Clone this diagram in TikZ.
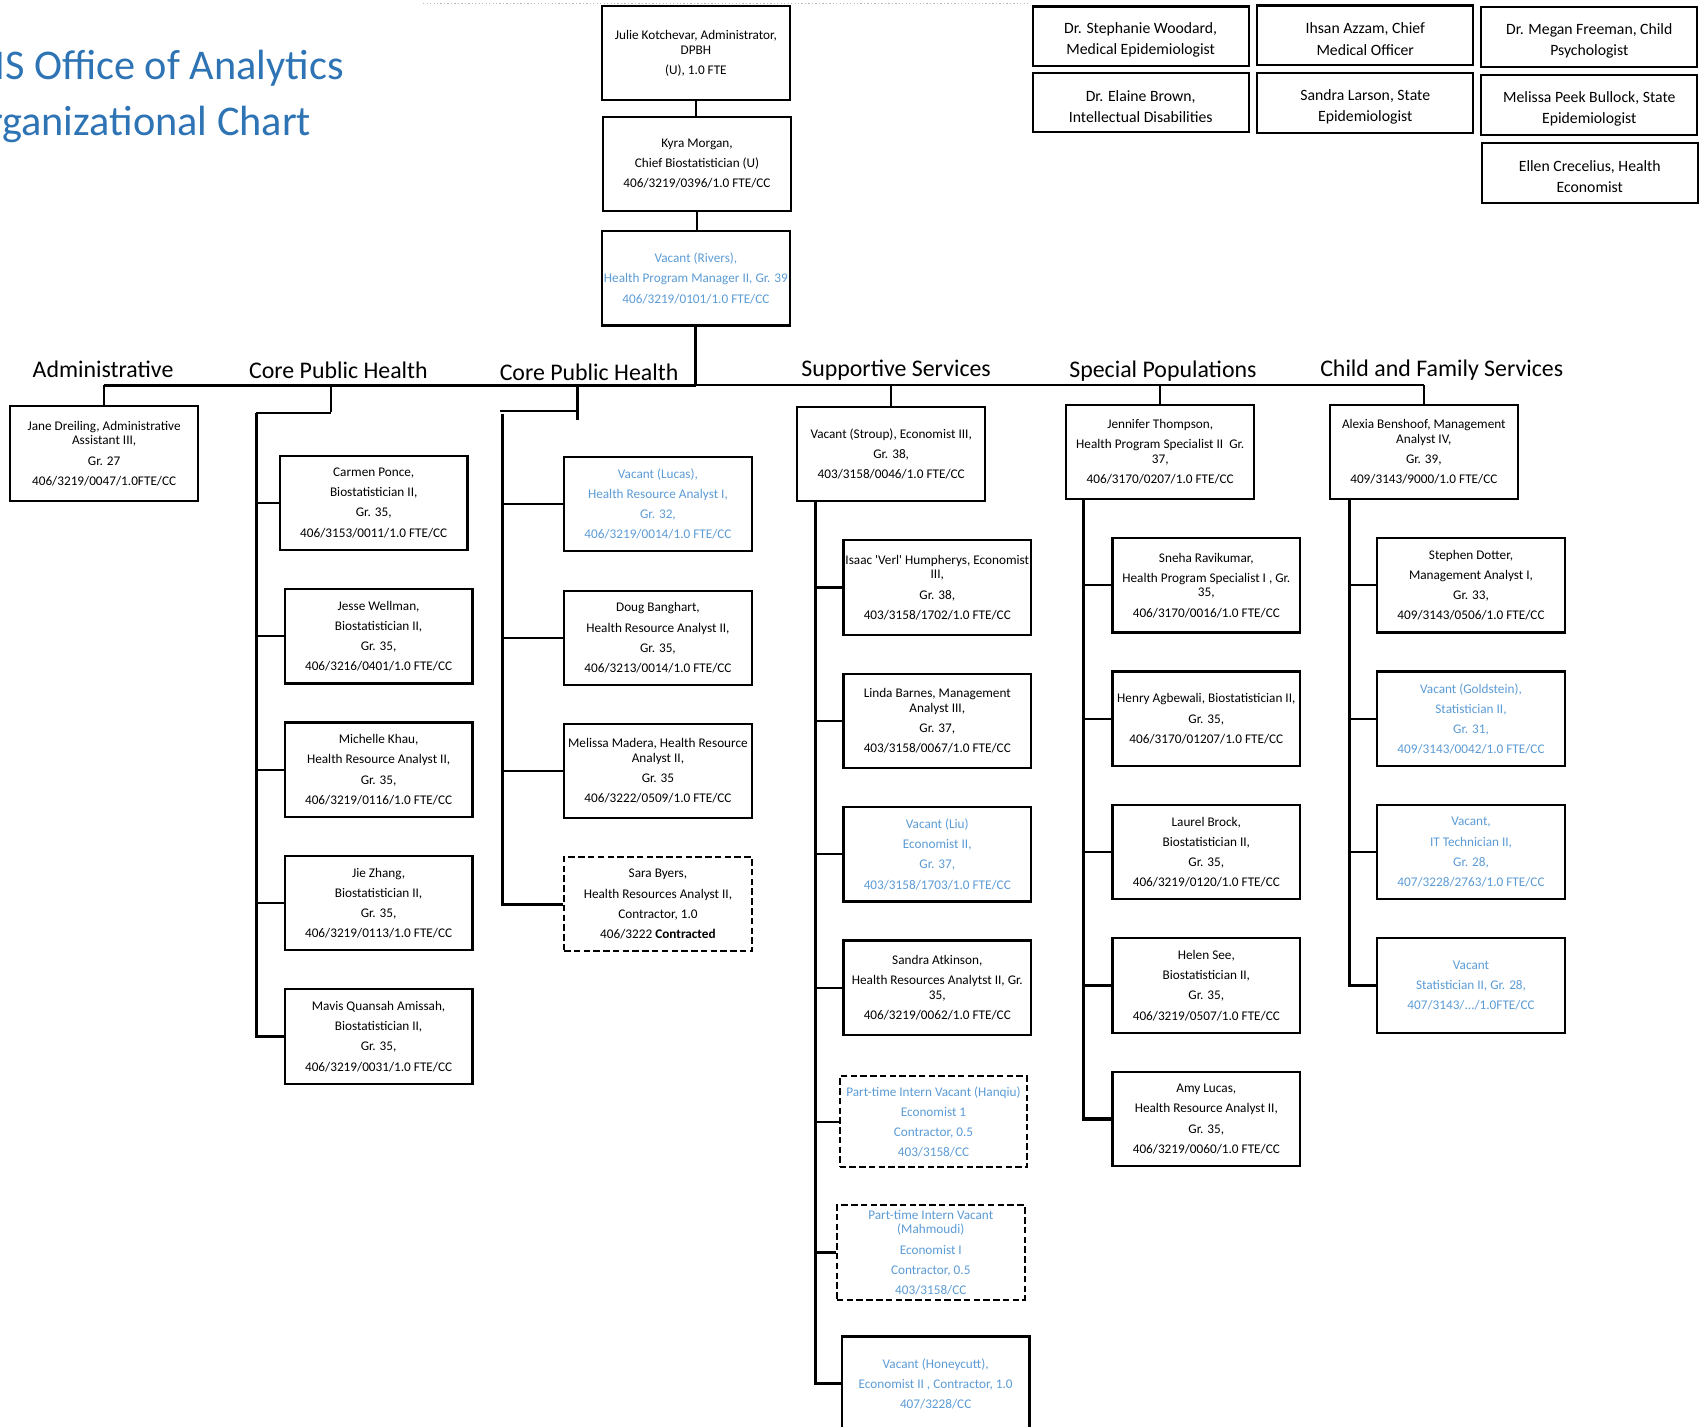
\documentclass[tikz,border=0pt]{standalone}
\usepackage{fontspec}
\setmainfont{Carlito}
\definecolor{vac}{HTML}{5B9BD5}
\definecolor{ttl}{HTML}{2E74B5}
\newcommand\pbr{\\[5pt]}
\newcommand\tstrut{\rule{0pt}{17pt}}
\newcommand\bxf{\fontsize{12.2}{13.6}\selectfont}
\newcommand\tbf{\fontsize{14.5}{19.5}\selectfont}
\newcommand\hdf{\fontsize{22}{26}\selectfont}
\newcommand\ttf{\fontsize{39}{46}\selectfont}
\begin{document}
\begin{tikzpicture}[x=1pt,y=-1pt,
  box/.style={draw, line width=2pt, minimum width=173pt, minimum height=87pt, inner sep=1pt, align=center, font=\bxf},
  vbox/.style={box, text=vac},
  dbox/.style={box, dash pattern=on 6pt off 3pt},
  dvbox/.style={dbox, text=vac},
  topbox/.style={draw, line width=2pt, minimum width=199pt, minimum height=55pt, inner sep=1pt, align=center, font=\tbf},
  head/.style={font=\hdf, anchor=base, inner sep=0},
  ttlnode/.style={font=\ttf, text=ttl, anchor=base east, inner sep=0},
  trunk/.style={line width=2.8pt},
  branch/.style={line width=2pt}]
\useasboundingbox (0,0) rectangle (1568,1315);
\clip (0,0) rectangle (1568,1315);

% title
\node[ttlnode] (t1) at (317,73) {DHHS Office of Analytics};
\node[ttlnode] (t2) at (287,125) {Organizational Chart};
\draw[gray!55, dotted, line width=1.2pt] (390,3) -- (950,3);

% top chain
\node[box] (julie) at (641.5,49) {Julie Kotchevar, Administrator,\\ DPBH\pbr (U), 1.0 FTE};
\node[box] (kyra) at (642.5,151) {Kyra Morgan,\pbr Chief Biostatistician (U)\pbr 406/3219/0396/1.0 FTE/CC};
\node[vbox] (rivers) at (641.5,256.5) {Vacant (Rivers),\pbr Health Program Manager II, Gr. 39\pbr 406/3219/0101/1.0 FTE/CC};

% top right boxes
\node[topbox] (woodard) at (1051.5,33.5) {\tstrut Dr. Stephanie Woodard,\\ Medical Epidemiologist};
\node[topbox] (azzam) at (1258.5,32.5) {\tstrut Ihsan Azzam, Chief\\ Medical Officer};
\node[topbox] (freeman) at (1465,34) {\tstrut Dr. Megan Freeman, Child\\ Psychologist};
\node[topbox] (brown) at (1051.5,94.5) {\tstrut Dr. Elaine Brown,\\ Intellectual Disabilities};
\node[topbox] (larson) at (1258.5,95) {\tstrut Sandra Larson, State\\ Epidemiologist};
\node[topbox] (bullock) at (1465,97) {\tstrut Melissa Peek Bullock, State\\ Epidemiologist};
\node[topbox] (crecelius) at (1465.5,159.5) {\tstrut Ellen Crecelius, Health\\ Economist};

% headings
\node[head] (h1) at (95,348) {Administrative};
\node[head] (h2) at (312,349) {Core Public Health};
\node[head] (h3) at (543,351) {Core Public Health};
\node[head] (h4) at (826,347) {Supportive Services};
\node[head] (h5) at (1072,348) {Special Populations};
\node[head] (h6) at (1329,347) {Child and Family Services};

% Administrative
\node[box] (jane) at (96,418) {Jane Dreiling, Administrative\\ Assistant III,\pbr Gr. 27\pbr 406/3219/0047/1.0FTE/CC};

% Core public health 1
\node[box] (carmen) at (344.5,463.5) {Carmen Ponce,\pbr Biostatistician II,\pbr Gr. 35,\pbr 406/3153/0011/1.0 FTE/CC};
\node[box] (jesse) at (349,586.5) {Jesse Wellman,\pbr Biostatistician II,\pbr Gr. 35,\pbr 406/3216/0401/1.0 FTE/CC};
\node[box] (michelle) at (349,709.5) {Michelle Khau,\pbr Health Resource Analyst II,\pbr Gr. 35,\pbr 406/3219/0116/1.0 FTE/CC};
\node[box] (jie) at (349,832.5) {Jie Zhang,\pbr Biostatistician II,\pbr Gr. 35,\pbr 406/3219/0113/1.0 FTE/CC};
\node[box] (mavis) at (349,955.5) {Mavis Quansah Amissah,\pbr Biostatistician II,\pbr Gr. 35,\pbr 406/3219/0031/1.0 FTE/CC};

% Core public health 2
\node[vbox] (lucas) at (606.5,464.5) {Vacant (Lucas),\pbr Health Resource Analyst I,\pbr Gr. 32,\pbr 406/3219/0014/1.0 FTE/CC};
\node[box] (doug) at (606.5,588) {Doug Banghart,\pbr Health Resource Analyst II,\pbr Gr. 35,\pbr 406/3213/0014/1.0 FTE/CC};
\node[box] (madera) at (606.5,710.5) {Melissa Madera, Health Resource\\ Analyst II,\pbr Gr. 35\pbr 406/3222/0509/1.0 FTE/CC};
\node[dbox] (sara) at (606.5,833.5) {Sara Byers,\pbr Health Resources Analyst II,\pbr Contractor, 1.0\pbr 406/3222 \textbf{Contracted}};

% Supportive services
\node[box] (stroup) at (821.5,418.5) {Vacant (Stroup), Economist III,\pbr Gr. 38,\pbr 403/3158/0046/1.0 FTE/CC};
\node[box] (isaac) at (864,541.5) {Isaac \textquotesingle Verl\textquotesingle{} Humpherys, Economist\\ III,\pbr Gr. 38,\pbr 403/3158/1702/1.0 FTE/CC};
\node[box] (linda) at (864,664.5) {Linda Barnes, Management\\ Analyst III,\pbr Gr. 37,\pbr 403/3158/0067/1.0 FTE/CC};
\node[vbox] (liu) at (864,787.5) {Vacant (Liu)\pbr Economist II,\pbr Gr. 37,\pbr 403/3158/1703/1.0 FTE/CC};
\node[box] (atkinson) at (864,910.5) {Sandra Atkinson,\pbr Health Resources Analytst II, Gr.\\ 35,\pbr 406/3219/0062/1.0 FTE/CC};
\node[dvbox, minimum height=84pt] (hanqiu) at (860.5,1034) {Part-time Intern Vacant (Hanqiu)\pbr Economist 1\pbr Contractor, 0.5\pbr 403/3158/CC};
\node[dvbox] (mahmoudi) at (858,1154.5) {Part-time Intern Vacant\\ (Mahmoudi)\pbr Economist I\pbr Contractor, 0.5\pbr 403/3158/CC};
\node[vbox] (honey) at (862.5,1275.5) {Vacant (Honeycutt),\pbr Economist II , Contractor, 1.0\pbr 407/3228/CC};

% Special populations
\node[box] (jennifer) at (1069.5,416.5) {Jennifer Thompson,\pbr Health Program Specialist II\ \ Gr.\\ 37,\pbr 406/3170/0207/1.0 FTE/CC};
\node[box] (sneha) at (1112,539.5) {Sneha Ravikumar,\pbr Health Program Specialist I , Gr.\\ 35,\pbr 406/3170/0016/1.0 FTE/CC};
\node[box] (henry) at (1112,662.5) {Henry Agbewali, Biostatistician II,\pbr Gr. 35,\pbr 406/3170/01207/1.0 FTE/CC};
\node[box] (laurel) at (1112,785.5) {Laurel Brock,\pbr Biostatistician II,\pbr Gr. 35,\pbr 406/3219/0120/1.0 FTE/CC};
\node[box] (helen) at (1112,908.5) {Helen See,\pbr Biostatistician II,\pbr Gr. 35,\pbr 406/3219/0507/1.0 FTE/CC};
\node[box] (amy) at (1112,1031.5) {Amy Lucas,\pbr Health Resource Analyst II,\pbr Gr. 35,\pbr 406/3219/0060/1.0 FTE/CC};

% Child and family services
\node[box] (alexia) at (1312.5,416.5) {Alexia Benshoof, Management\\ Analyst IV,\pbr Gr. 39,\pbr 409/3143/9000/1.0 FTE/CC};
\node[box] (stephen) at (1356,539.5) {Stephen Dotter,\pbr Management Analyst I,\pbr Gr. 33,\pbr 409/3143/0506/1.0 FTE/CC};
\node[vbox] (gold) at (1356,662.5) {Vacant (Goldstein),\pbr Statistician II,\pbr Gr. 31,\pbr 409/3143/0042/1.0 FTE/CC};
\node[vbox] (ittech) at (1356,785.5) {Vacant,\pbr IT Technician II,\pbr Gr. 28,\pbr 407/3228/2763/1.0 FTE/CC};
\node[vbox] (stat) at (1356,908.5) {Vacant\pbr Statistician II, Gr. 28,\pbr 407/3143/.../1.0FTE/CC};

% connectors
\coordinate (bus) at (0,355);
\draw[branch] (julie.south) -- (julie.south |- kyra.north);
\draw[branch] (kyra.south) -- (kyra.south |- rivers.north);
\draw[trunk] (rivers.south) -- (rivers.south |- bus);
\draw[trunk] (jane.north |- bus) -- (rivers.south |- bus);
\draw[branch] (rivers.south |- bus) -- (alexia.north |- bus);
\draw[branch] (jane.north |- bus) -- (jane.north);

% core 1
\coordinate (c1d) at (305,380);
\coordinate (c1t) at (236,381);
\draw[branch] (c1d |- bus) -- (c1d);
\draw[branch] (c1d |- c1t) -- (c1t);
\draw[trunk] (c1t) -- (c1t |- mavis.west) -- (mavis.west);
\foreach \n in {carmen,jesse,michelle,jie} \draw[branch] (c1t |- \n.west) -- (\n.west);

% core 2
\coordinate (c2d) at (532,387);
\coordinate (c2h) at (461,379);
\coordinate (c2t) at (463,382);
\draw[trunk] (c2d |- bus) -- (c2d);
\draw[branch] (c2h) -- (c2h -| c2d);
\draw[trunk] (c2t) -- (c2t |- sara.west) -- (sara.west);
\foreach \n in {lucas,doug,madera} \draw[branch] (c2t |- \n.west) -- (\n.west);

% supportive
\coordinate (st) at (752,462);
\draw[branch] (stroup.north |- bus) -- (stroup.north);
\draw[trunk] (st) -- (st |- honey.west) -- (honey.west);
\foreach \n in {isaac,linda,liu,atkinson,hanqiu,mahmoudi} \draw[branch] (st |- \n.west) -- (\n.west);

% special
\coordinate (sp) at (999,460);
\draw[branch] (jennifer.north |- bus) -- (jennifer.north);
\draw[trunk] (sp) -- (sp |- amy.west) -- (amy.west);
\foreach \n in {sneha,henry,laurel,helen} \draw[branch] (sp |- \n.west) -- (\n.west);

% child and family
\coordinate (cf) at (1244,460);
\draw[branch] (alexia.north |- bus) -- (alexia.north);
\draw[trunk] (cf) -- (cf |- stat.west) -- (stat.west);
\foreach \n in {stephen,gold,ittech} \draw[branch] (cf |- \n.west) -- (\n.west);
\end{tikzpicture}
\end{document}
